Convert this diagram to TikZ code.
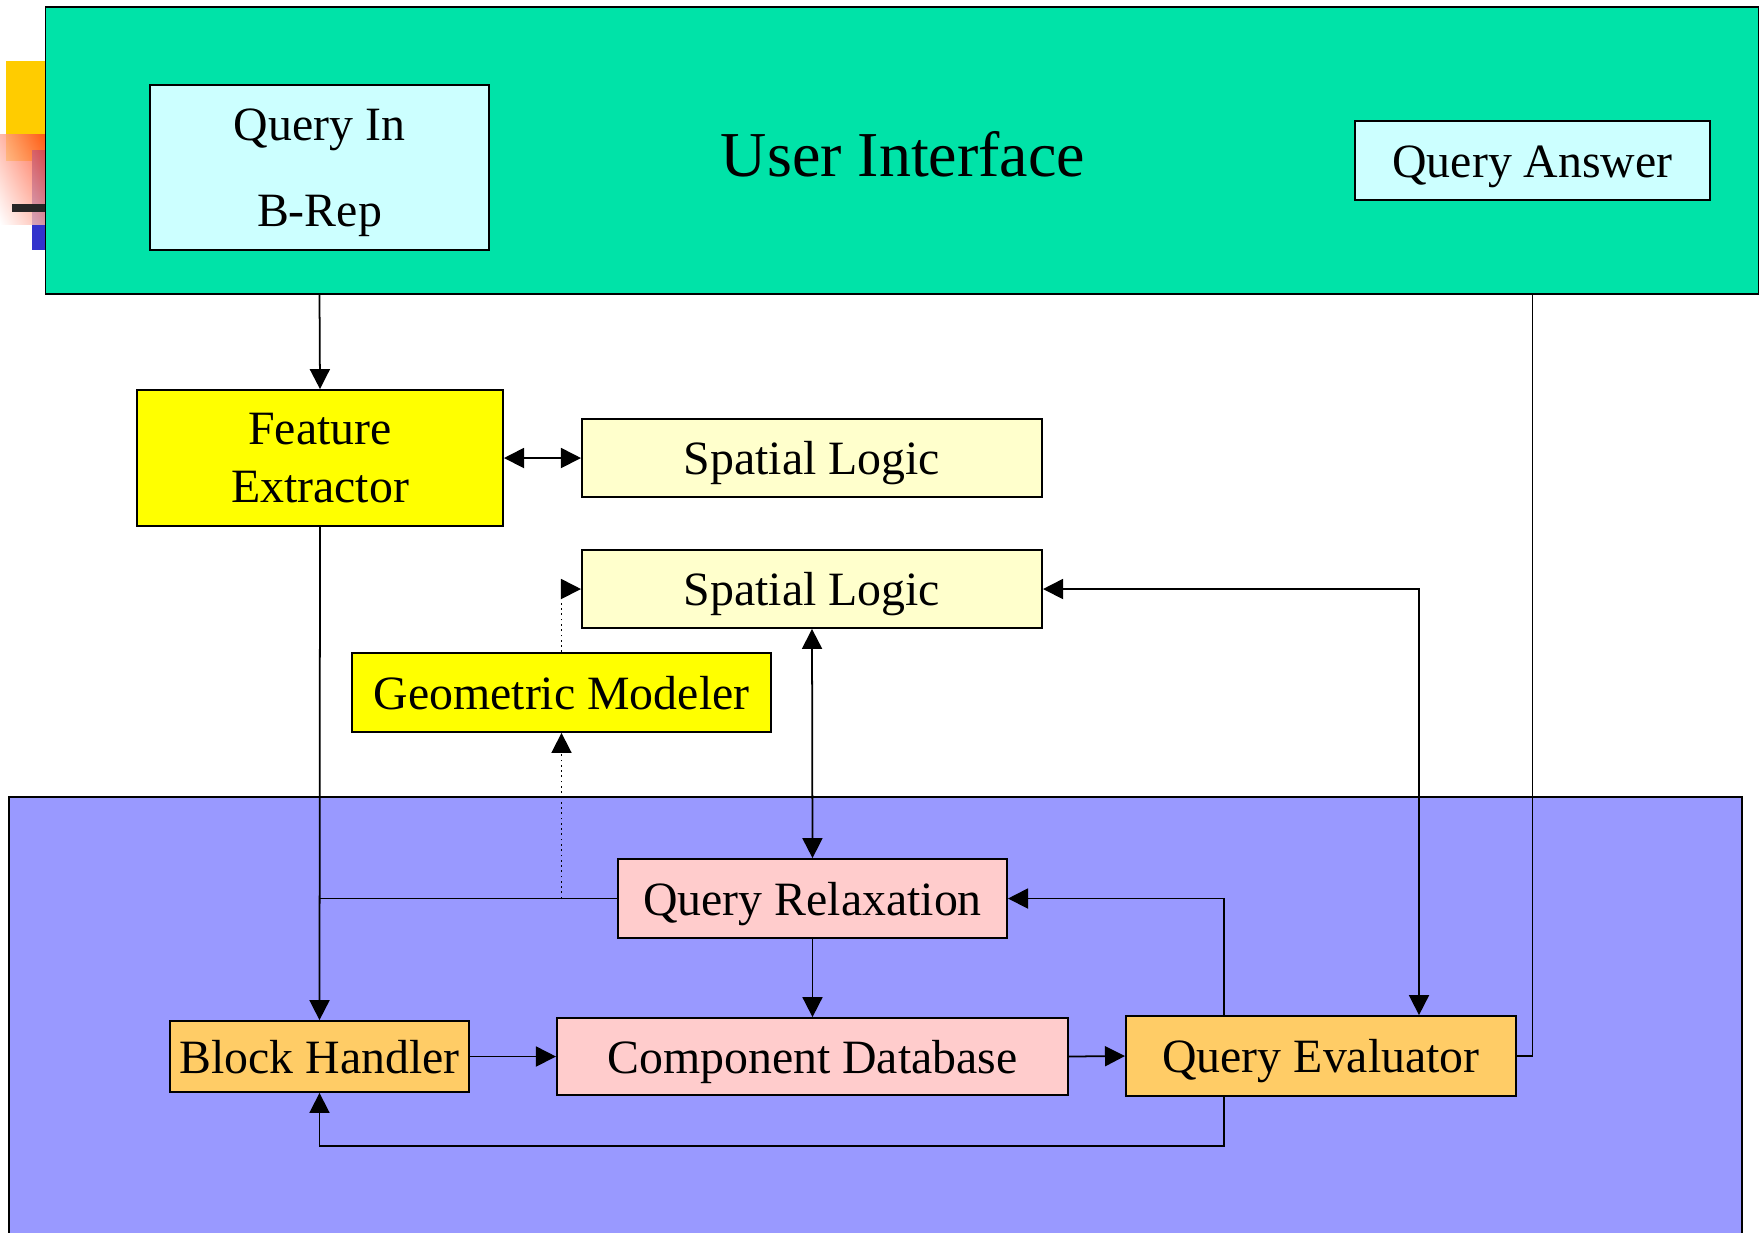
\documentclass[tikz,border=0pt]{standalone}
\usepackage{fontspec}
\setmainfont{Liberation Serif}
\usetikzlibrary{arrows.meta,calc,shadings}

\definecolor{uigreen}{RGB}{0,227,168}
\definecolor{qbox}{RGB}{204,255,255}
\definecolor{extyellow}{RGB}{255,255,0}
\definecolor{logicbox}{RGB}{255,255,204}
\definecolor{coreblue}{RGB}{153,153,255}
\definecolor{dbpink}{RGB}{255,204,204}
\definecolor{handler}{RGB}{255,204,102}
\definecolor{decoyellow}{RGB}{255,204,0}
\definecolor{decored}{RGB}{255,60,20}
\definecolor{decoblue}{RGB}{51,51,204}

\begin{document}
\begin{tikzpicture}[
    x=0.01cm, y=-0.01cm,
    box/.style={draw, line width=0.5pt, inner sep=0pt, align=center,
      font=\fontsize{13.6}{16.3}\selectfont},
    onerow/.style={box, text height=9.6pt, text depth=0pt},
    link/.style={line width=0.5pt, -{Triangle[length=2mm, width=2mm]}},
    both/.style={link, {Triangle[length=2mm, width=2mm]}-{Triangle[length=2mm, width=2mm]}},
    plain/.style={line width=0.5pt}
  ]
  \useasboundingbox (0,0) rectangle (1763,1232);

  % corner marks of the slide
  \fill [decoyellow] (6,61) rectangle (46,161);
  \fill [decoblue] (32,150) rectangle (46,250);
  \shade [opacity=0.8, upper right=decored, upper left=decored!45,
    lower right=decored!45, lower left=white] (0,134) rectangle (46,224);
  \fill [black!85] (12,204) rectangle (46,212);

  % user interface layer
  \node [draw, line width=0.5pt, fill=uigreen, minimum width=17.12cm,
    minimum height=2.87cm] (ui) at (902,150.5) {};
  \node [font=\fontsize{18.2}{22}\selectfont] (uititle) at (903,154) {User Interface};
  \node [box, fill=qbox, minimum width=3.39cm, minimum height=1.65cm, text depth=0pt,
    font=\fontsize{13.6}{24.4}\selectfont] (qin) at (319.5,167.5) {Query In\\B-Rep};
  \node [onerow, fill=qbox, minimum width=3.55cm, minimum height=0.79cm] (qa) at (1532.5,160.5) {Query Answer};

  % core layer
  \fill [coreblue] (9,797) rectangle (1742,1240);
  \draw [plain] (9,1240) |- (1742,797) -- (1742,1240);

  % modules
  \node [box, fill=extyellow, minimum width=3.66cm, minimum height=1.36cm] (fe) at (320,458) {Feature\\Extractor};
  \node [onerow, fill=logicbox, minimum width=4.60cm, minimum height=0.78cm] (sl1) at (812,458) {Spatial Logic};
  \node [onerow, fill=logicbox, minimum width=4.60cm, minimum height=0.78cm] (sl2) at (812,589) {Spatial Logic};
  \node [onerow, fill=extyellow, minimum width=4.19cm, minimum height=0.79cm] (gm) at (561.5,692.5) {Geometric Modeler};
  \node [onerow, fill=dbpink, minimum width=3.89cm, minimum height=0.79cm] (qr) at (812.5,898.5) {Query Relaxation};
  \node [onerow, fill=handler, minimum width=2.99cm, minimum height=0.71cm] (bh) at (319.5,1056.5) {Block Handler};
  \node [onerow, fill=dbpink, minimum width=5.11cm, minimum height=0.77cm] (cd) at (812.5,1056.5) {Component Database};
  \node [onerow, fill=handler, minimum width=3.90cm, minimum height=0.80cm] (qe) at (1321,1056) {Query Evaluator};

  % connections
  \draw [link] (qin |- ui.south) -- (fe.north);
  \draw [both] (fe.east) -- (sl1.west);
  \draw [link] (fe.south) -- (bh.north);
  \draw [plain] (qr.west) -- (fe.south |- qr.west);
  \draw [link, densely dotted] (gm.south |- qr.west) -- (gm.south);
  \draw [link, densely dotted] (gm.north) |- (sl2.west);
  \draw [both] (sl2.south) -- (qr.north);
  \draw [link] (qr.south) -- (cd.north);
  \draw [link] (bh.east) -- (cd.west);
  \draw [link] (cd.east) -- (qe.west);
  \draw [both] (sl2.east) -| ($(qe.north west)+(294,0)$);
  \draw [link] ($(qe.north west)+(99,0)$) |- (qr.east);
  \draw [link] ($(qe.south west)+(99,0)$) -- ++(0,49) -| (bh.south);
  \draw [plain] (qa |- ui.south) |- (qe.east);
\end{tikzpicture}
\end{document}
